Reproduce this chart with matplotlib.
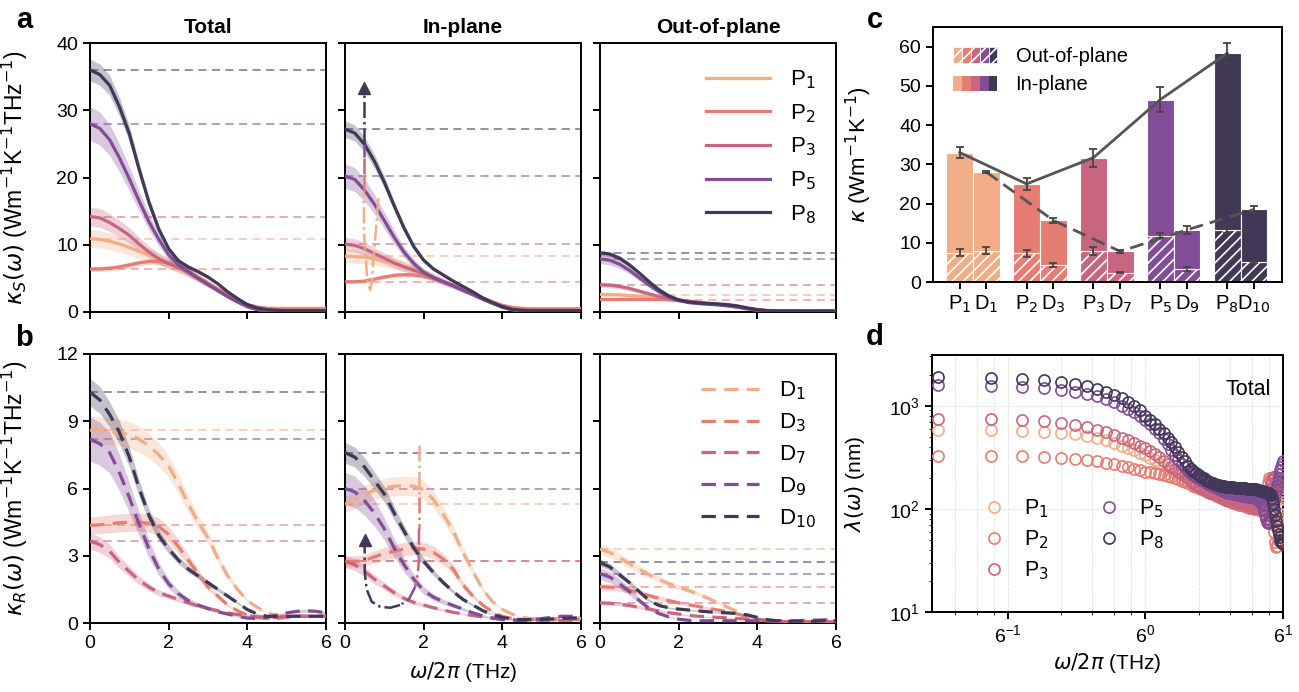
import numpy as np
import matplotlib
matplotlib.use('Agg')
import matplotlib.pyplot as plt
from matplotlib.patches import Rectangle
from matplotlib.legend_handler import HandlerTuple
from matplotlib.ticker import NullFormatter

plt.rcParams['font.family'] = ['Liberation Sans', 'DejaVu Sans']
plt.rcParams['font.size'] = 14
plt.rcParams['axes.linewidth'] = 1.4
plt.rcParams['xtick.major.width'] = 1.4
plt.rcParams['ytick.major.width'] = 1.4
plt.rcParams['xtick.major.size'] = 5
plt.rcParams['ytick.major.size'] = 5
plt.rcParams['hatch.linewidth'] = 1.2

# ---------------- data ----------------
freq = np.linspace(0, 6, 25)          # THz, 0.25 step
p_labels = ['P$_1$', 'P$_2$', 'P$_3$', 'P$_5$', 'P$_8$']
d_labels = ['D$_1$', 'D$_3$', 'D$_7$', 'D$_9$', 'D$_{10}$']
colors = ['#f0ad88', '#e57d72', '#c8657f', '#824c96', '#413757']

# kappa_S(omega), panel a
ks_total = [
    [10.9, 10.8, 10.5, 10.1, 9.6, 9.0, 8.5, 7.9, 7.3, 6.6, 5.9, 5.2, 4.3, 3.4, 2.6, 1.8, 1.1, 0.75, 0.6, 0.55, 0.55, 0.55, 0.55, 0.55, 0.55],
    [6.4, 6.4, 6.5, 6.7, 7.0, 7.3, 7.5, 7.5, 7.3, 6.8, 6.0, 5.2, 4.3, 3.4, 2.6, 1.8, 1.1, 0.7, 0.5, 0.45, 0.45, 0.45, 0.45, 0.45, 0.45],
    [14.2, 14.0, 13.3, 12.4, 11.4, 10.1, 8.9, 7.9, 7.2, 6.6, 5.9, 5.0, 4.1, 3.2, 2.3, 1.5, 0.8, 0.4, 0.25, 0.2, 0.2, 0.2, 0.2, 0.2, 0.2],
    [28.0, 27.3, 25.6, 22.9, 19.8, 16.5, 13.4, 10.8, 8.5, 7.0, 6.0, 5.0, 4.1, 3.2, 2.3, 1.5, 0.8, 0.35, 0.15, 0.1, 0.1, 0.1, 0.1, 0.1, 0.1],
    [36.0, 35.3, 33.7, 30.5, 26.5, 21.2, 16.3, 12.3, 9.4, 7.6, 6.7, 6.0, 5.2, 4.2, 3.0, 2.0, 1.1, 0.6, 0.35, 0.25, 0.2, 0.2, 0.2, 0.2, 0.2],
]
ks_inplane = [
    [8.3, 8.25, 8.15, 7.9, 7.6, 7.2, 6.8, 6.3, 5.8, 5.2, 4.6, 4.0, 3.4, 2.8, 2.1, 1.5, 1.0, 0.7, 0.55, 0.5, 0.5, 0.5, 0.5, 0.5, 0.5],
    [4.5, 4.5, 4.6, 4.9, 5.2, 5.45, 5.55, 5.5, 5.3, 5.0, 4.5, 4.0, 3.4, 2.8, 2.1, 1.5, 1.0, 0.65, 0.5, 0.45, 0.45, 0.45, 0.45, 0.45, 0.45],
    [10.1, 9.9, 9.4, 8.7, 8.0, 7.3, 6.7, 6.2, 5.7, 5.1, 4.5, 3.9, 3.3, 2.6, 1.9, 1.3, 0.8, 0.4, 0.25, 0.2, 0.2, 0.2, 0.2, 0.2, 0.2],
    [20.2, 19.7, 18.1, 16.0, 13.6, 11.1, 8.9, 7.2, 5.9, 5.1, 4.5, 3.9, 3.2, 2.6, 1.9, 1.3, 0.7, 0.3, 0.12, 0.1, 0.1, 0.1, 0.1, 0.1, 0.1],
    [27.2, 26.6, 24.9, 22.4, 19.3, 15.8, 12.5, 9.7, 7.7, 6.4, 5.5, 4.6, 3.8, 3.0, 2.1, 1.4, 0.8, 0.4, 0.25, 0.2, 0.2, 0.2, 0.2, 0.2, 0.2],
]
ks_outplane = [
    [2.6, 2.6, 2.55, 2.45, 2.35, 2.2, 2.05, 1.9, 1.75, 1.6, 1.45, 1.3, 1.15, 1.0, 0.8, 0.55, 0.35, 0.25, 0.2, 0.2, 0.2, 0.2, 0.2, 0.2, 0.2],
    [1.85, 1.85, 1.85, 1.85, 1.85, 1.85, 1.85, 1.8, 1.7, 1.55, 1.4, 1.25, 1.1, 0.95, 0.75, 0.5, 0.3, 0.2, 0.15, 0.15, 0.15, 0.15, 0.15, 0.15, 0.15],
    [4.05, 4.0, 3.8, 3.5, 3.1, 2.7, 2.3, 2.0, 1.8, 1.6, 1.45, 1.3, 1.15, 1.0, 0.8, 0.55, 0.35, 0.2, 0.15, 0.15, 0.15, 0.15, 0.15, 0.15, 0.15],
    [7.9, 7.7, 7.1, 6.2, 5.1, 4.0, 3.0, 2.2, 1.7, 1.4, 1.25, 1.15, 1.05, 0.9, 0.7, 0.45, 0.25, 0.15, 0.1, 0.1, 0.1, 0.1, 0.1, 0.1, 0.1],
    [8.8, 8.6, 8.0, 7.0, 5.8, 4.5, 3.3, 2.4, 1.8, 1.5, 1.35, 1.25, 1.2, 1.1, 0.9, 0.6, 0.35, 0.2, 0.15, 0.15, 0.15, 0.15, 0.15, 0.15, 0.15],
]
ks_band = [0.12, 0.06, 0.10, 0.09, 0.045]

# kappa_R(omega), panel b
kr_total = [
    [8.6, 8.6, 8.55, 8.5, 8.4, 8.2, 7.9, 7.5, 7.0, 6.2, 5.3, 4.5, 3.8, 2.9, 2.1, 1.5, 1.0, 0.7, 0.45, 0.35, 0.3, 0.3, 0.3, 0.3, 0.3],
    [4.35, 4.38, 4.42, 4.47, 4.5, 4.5, 4.45, 4.3, 3.95, 3.4, 2.8, 2.2, 1.6, 1.2, 0.8, 0.55, 0.35, 0.25, 0.2, 0.2, 0.25, 0.3, 0.3, 0.3, 0.3],
    [3.65, 3.5, 3.2, 2.7, 2.3, 1.9, 1.6, 1.35, 1.2, 1.05, 0.9, 0.75, 0.65, 0.55, 0.45, 0.38, 0.32, 0.28, 0.25, 0.25, 0.3, 0.3, 0.3, 0.3, 0.3],
    [8.2, 8.0, 7.6, 6.7, 5.6, 4.4, 3.3, 2.4, 1.75, 1.3, 1.0, 0.8, 0.65, 0.5, 0.4, 0.3, 0.22, 0.2, 0.25, 0.35, 0.45, 0.52, 0.55, 0.52, 0.45],
    [10.3, 9.95, 9.3, 8.5, 7.4, 6.0, 4.8, 3.9, 3.3, 2.8, 2.4, 2.1, 1.8, 1.5, 1.2, 0.9, 0.6, 0.4, 0.3, 0.3, 0.3, 0.3, 0.3, 0.3, 0.3],
]
kr_inplane = [
    [5.3, 5.5, 5.75, 5.92, 6.03, 6.1, 6.12, 6.1, 5.95, 5.5, 4.85, 4.1, 3.15, 2.3, 1.5, 0.95, 0.6, 0.4, 0.25, 0.2, 0.18, 0.18, 0.2, 0.2, 0.2],
    [2.75, 2.75, 2.8, 2.95, 3.1, 3.2, 3.3, 3.35, 3.3, 3.15, 2.85, 2.4, 1.7, 1.2, 0.8, 0.5, 0.3, 0.2, 0.15, 0.15, 0.15, 0.15, 0.15, 0.15, 0.15],
    [2.75, 2.6, 2.3, 1.95, 1.65, 1.35, 1.1, 0.92, 0.8, 0.68, 0.58, 0.48, 0.4, 0.33, 0.27, 0.22, 0.18, 0.15, 0.12, 0.12, 0.12, 0.12, 0.12, 0.12, 0.12],
    [6.0, 5.85, 5.45, 4.9, 4.2, 3.35, 2.6, 1.95, 1.45, 1.15, 0.95, 0.78, 0.62, 0.45, 0.32, 0.22, 0.15, 0.12, 0.12, 0.15, 0.2, 0.25, 0.3, 0.3, 0.3],
    [7.6, 7.4, 6.95, 6.35, 5.75, 4.9, 4.1, 3.35, 2.75, 2.25, 1.8, 1.4, 1.05, 0.8, 0.55, 0.38, 0.25, 0.18, 0.15, 0.15, 0.15, 0.18, 0.2, 0.22, 0.22],
]
kr_outplane = [
    [3.3, 3.15, 2.9, 2.65, 2.4, 2.15, 1.95, 1.75, 1.6, 1.45, 1.3, 1.1, 0.9, 0.7, 0.5, 0.32, 0.2, 0.12, 0.08, 0.05, 0.05, 0.05, 0.05, 0.05, 0.05],
    [1.62, 1.6, 1.55, 1.47, 1.35, 1.22, 1.1, 1.0, 0.9, 0.82, 0.74, 0.66, 0.58, 0.5, 0.4, 0.28, 0.18, 0.12, 0.08, 0.05, 0.05, 0.05, 0.05, 0.05, 0.05],
    [0.9, 0.88, 0.84, 0.78, 0.7, 0.62, 0.54, 0.46, 0.4, 0.34, 0.3, 0.27, 0.25, 0.23, 0.2, 0.17, 0.14, 0.1, 0.07, 0.05, 0.05, 0.05, 0.05, 0.05, 0.05],
    [2.2, 2.05, 1.75, 1.4, 1.0, 0.65, 0.42, 0.27, 0.17, 0.12, 0.1, 0.1, 0.1, 0.1, 0.1, 0.1, 0.1, 0.1, 0.1, 0.1, 0.1, 0.12, 0.13, 0.14, 0.15],
    [2.7, 2.5, 2.15, 1.8, 1.4, 1.0, 0.78, 0.68, 0.62, 0.58, 0.54, 0.5, 0.47, 0.45, 0.42, 0.36, 0.25, 0.15, 0.1, 0.08, 0.08, 0.08, 0.08, 0.1, 0.1],
]
kr_band = [0.07, 0.09, 0.10, 0.12, 0.06]

# panel c: thermal conductivity per structure
bar_labels = ['P$_1$', 'D$_1$', 'P$_2$', 'D$_3$', 'P$_3$', 'D$_7$', 'P$_5$', 'D$_9$', 'P$_8$', 'D$_{10}$']
kappa_P = [33.0, 25.0, 31.7, 46.5, 58.3]
kappa_P_err = [1.5, 1.6, 2.3, 3.2, 2.5]
kappa_P_out = [7.5, 7.3, 8.0, 11.8, 13.2]
kappa_P_out_err = [0.8, 0.8, 1.0, 0.7, 0.8]
kappa_D = [28.0, 15.7, 7.8, 13.3, 18.5]
kappa_D_err = [0.3, 0.6, 0.3, 1.0, 1.0]
kappa_D_out = [8.0, 4.3, 2.4, 3.4, 5.1]
kappa_D_out_err = [0.8, 0.6, 0.2, 0.5, 0.3]

# panel d: phonon mean free path, total
freq_d = np.arange(1, 91) / 15.0
lam_p1 = [580, 575, 568, 558, 545, 528, 508, 485, 460, 435, 410, 388, 368, 348, 330,
          312, 295, 278, 262, 248, 235, 222, 211, 201, 192, 184, 177, 171, 166, 161,
          157, 153, 149, 146, 143, 140, 137, 134, 131, 129, 126, 124, 122, 120, 118,
          117, 115, 114, 113, 112, 111, 110, 109, 108, 107, 106, 105, 104, 103, 103,
          102, 102, 101, 101, 100, 100, 99, 99, 98, 97, 96, 94, 92, 90, 88,
          84, 80, 76, 72, 70, 70, 72, 76, 82, 90, 100, 112, 125, 138, 150]
lam_p2 = [325, 325, 322, 318, 312, 305, 297, 288, 279, 270, 261, 252, 244, 237, 230,
          226, 222, 218, 213, 208, 203, 198, 193, 188, 183, 178, 173, 168, 163, 158,
          154, 151, 148, 145, 142, 139, 136, 133, 130, 128, 126, 124, 122, 120, 118,
          117, 115, 114, 112, 111, 110, 109, 108, 107, 106, 105, 104, 103, 102, 102,
          101, 100, 100, 99, 99, 98, 98, 97, 97, 98, 104, 120, 150, 180, 198,
          190, 160, 120, 85, 60, 48, 43, 44, 50, 62, 80, 105, 135, 165, 190]
lam_p3 = [750, 740, 725, 710, 685, 650, 620, 580, 550, 520, 490, 460, 435, 410, 390,
          365, 340, 315, 292, 272, 255, 242, 230, 219, 208, 198, 188, 180, 172, 165,
          160, 155, 151, 147, 144, 141, 138, 135, 132, 130, 127, 125, 123, 121, 119,
          118, 117, 116, 115, 114, 113, 112, 111, 110, 109, 108, 107, 106, 105, 104,
          104, 103, 103, 102, 102, 101, 101, 100, 100, 100, 101, 103, 108, 118, 135,
          155, 175, 192, 203, 205, 198, 185, 172, 162, 158, 160, 166, 175, 185, 195]
lam_p5 = [1590, 1560, 1530, 1480, 1430, 1370, 1300, 1230, 1160, 1080, 1000, 930, 860, 790, 720,
          660, 600, 540, 480, 425, 375, 335, 300, 275, 252, 235, 222, 212, 205, 198,
          192, 186, 180, 175, 170, 166, 162, 159, 156, 153, 150, 148, 146, 144, 142,
          141, 140, 139, 138, 137, 136, 135, 134, 133, 133, 132, 131, 131, 130, 130,
          129, 128, 127, 126, 124, 122, 119, 115, 108, 98, 88, 80, 75, 73, 74,
          78, 85, 95, 108, 122, 137, 152, 167, 183, 200, 218, 236, 255, 272, 290]
lam_p8 = [1900, 1860, 1820, 1760, 1700, 1620, 1540, 1450, 1360, 1270, 1180, 1090, 1000, 900, 800,
          730, 660, 600, 545, 490, 440, 395, 355, 320, 290, 262, 245, 232, 222, 213,
          205, 198, 192, 186, 181, 177, 174, 171, 169, 167, 166, 165, 164, 163, 163,
          162, 162, 161, 161, 160, 160, 159, 159, 158, 158, 157, 157, 156, 156, 155,
          155, 154, 154, 153, 152, 151, 150, 149, 148, 147, 146, 145, 144, 143, 142,
          140, 136, 128, 115, 100, 88, 77, 68, 62, 57, 53, 50, 48, 47, 46]
lam_all = [lam_p1, lam_p2, lam_p3, lam_p5, lam_p8]

# ---------------- figure ----------------
W, H = 1299, 692
fig = plt.figure(figsize=(W / 100, H / 100), dpi=100)


def px_axes(left, top, right, bottom):
    return fig.add_axes([left / W, 1 - bottom / H, (right - left) / W, (bottom - top) / H])


col_left = [90, 345, 600]
axa = [px_axes(l, 43, l + 236, 312) for l in col_left]
axb = [px_axes(l, 354, l + 236, 623) for l in col_left]
axc = px_axes(933, 27, 1282, 282)
axd = px_axes(932, 355, 1283, 612)


def draw_curves(ax, curves, bands, labels, dashed):
    for y, c, b, lab in zip(curves, colors, bands, labels):
        y = np.array(y)
        ax.fill_between(freq, y * (1 - b), y * (1 + b), color=c, alpha=0.3, lw=0, zorder=1)
        ax.axhline(y[0], color=c, lw=1.3, alpha=0.6, dashes=(4.5, 3), zorder=0)
        if dashed:
            ax.plot(freq, y, color=c, lw=2.3, dashes=(4.5, 2.6), label=lab, zorder=3)
        else:
            ax.plot(freq, y, color=c, lw=2.3, label=lab, zorder=3)


for ax, data in zip(axa, [ks_total, ks_inplane, ks_outplane]):
    draw_curves(ax, data, ks_band, p_labels, False)
    ax.set_xlim(0, 6)
    ax.set_ylim(0, 40)
    ax.set_xticks([0, 2, 4, 6])
    ax.set_yticks([0, 10, 20, 30, 40])
    ax.tick_params(labelbottom=False)
for ax, data in zip(axb, [kr_total, kr_inplane, kr_outplane]):
    draw_curves(ax, data, kr_band, d_labels, True)
    ax.set_xlim(0, 6)
    ax.set_ylim(0, 12)
    ax.set_xticks([0, 2, 4, 6])
    ax.set_yticks([0, 3, 6, 9, 12])
for ax in axa[1:] + axb[1:]:
    ax.tick_params(labelleft=False)

for ax, t in zip(axa, ['Total', 'In-plane', 'Out-of-plane']):
    ax.set_title(t, fontsize=15, fontweight='bold', pad=7)

axa[0].set_ylabel(r'$\kappa_S(\omega)$ (Wm$^{-1}$K$^{-1}$THz$^{-1}$)', fontsize=16.5)
axa[0].yaxis.set_label_coords(-0.255, 0.5)
axb[0].set_ylabel(r'$\kappa_R(\omega)$ (Wm$^{-1}$K$^{-1}$THz$^{-1}$)', fontsize=16.5)
axb[0].yaxis.set_label_coords(-0.255, 0.5)
axb[1].set_xlabel(r'$\omega/2\pi$ (THz)', fontsize=15, labelpad=6)

axa[2].legend(loc='upper right', bbox_to_anchor=(1.0, 0.98), frameon=False, fontsize=16,
              handlelength=2.9, labelspacing=0.5, handletextpad=0.9)
axb[2].legend(loc='upper right', bbox_to_anchor=(1.0, 0.98), frameon=False, fontsize=16,
              handlelength=2.6, labelspacing=0.42, handletextpad=0.9)


# gradient dash-dot guide arrows (annotation only)
def guide(ax, chunks, head):
    for (xs, ys), c in chunks:
        ax.plot(xs, ys, color=c, lw=1.8, ls='-.', zorder=4)
    ax.plot([head[0]], [head[1]], marker='^', ms=9, color=colors[4], zorder=5, lw=0)


guide(axa[1], [
    (([0.85, 0.68, 0.64, 0.57, 0.48, 0.48], [16.9, 4.5, 3.3, 4.5, 12.0, 18.0]), colors[0]),
    (([0.48, 0.48], [18.0, 20.5]), colors[1]),
    (([0.48, 0.48], [20.5, 23.0]), colors[2]),
    (([0.48, 0.48], [23.0, 25.0]), colors[3]),
    (([0.48, 0.48], [25.0, 32.5]), colors[4]),
], (0.48, 33.3))

guide(axb[1], [
    (([1.88, 1.88], [7.95, 5.6]), colors[0]),
    (([1.88, 1.88], [5.6, 4.2]), colors[1]),
    (([1.88, 1.88, 1.85, 1.78], [4.2, 2.8, 2.2, 1.6]), colors[2]),
    (([1.78, 1.62, 1.4], [1.6, 1.05, 0.8]), colors[3]),
    (([1.4, 1.15, 0.9, 0.68, 0.55, 0.5, 0.5], [0.8, 0.68, 0.72, 0.95, 1.5, 2.3, 3.4]), colors[4]),
], (0.5, 3.7))

# ---------------- panel c ----------------
grp = np.arange(5)
xp = grp - 0.2
xd = grp + 0.2
for x, tot, out in [(xp, kappa_P, kappa_P_out), (xd, kappa_D, kappa_D_out)]:
    tot = np.array(tot)
    out = np.array(out)
    axc.bar(x, out, width=0.4, color=colors, edgecolor='white', lw=0.8, hatch='///', zorder=2)
    axc.bar(x, tot - out, bottom=out, width=0.4, color=colors, edgecolor='white', lw=0.8, zorder=2)
ekw = dict(fmt='none', ecolor='#444444', elinewidth=1.3, capsize=3, capthick=1.3, zorder=4)
axc.errorbar(xp, kappa_P, yerr=kappa_P_err, **ekw)
axc.errorbar(xd, kappa_D, yerr=kappa_D_err, **ekw)
axc.errorbar(xp, kappa_P_out, yerr=kappa_P_out_err, **ekw)
axc.errorbar(xd, kappa_D_out, yerr=kappa_D_out_err, **ekw)
axc.plot(xp, kappa_P, color='#555555', lw=2, zorder=3)
axc.plot(xd, kappa_D, color='#555555', lw=2, dashes=(5, 2.5), zorder=3)
axc.set_xlim(-0.6, 4.62)
axc.set_ylim(0, 65)
axc.set_yticks([0, 10, 20, 30, 40, 50, 60])
axc.set_xticks(np.ravel(np.column_stack([xp, xd])), bar_labels, fontsize=14.5)
axc.set_ylabel(r'$\kappa$ (Wm$^{-1}$K$^{-1}$)', fontsize=16)
axc.yaxis.set_label_coords(-0.17, 0.5)

h_out = tuple(Rectangle((0, 0), 1, 1, facecolor=c, edgecolor='white', lw=0.5, hatch='///') for c in colors)
h_in = tuple(Rectangle((0, 0), 1, 1, facecolor=c, edgecolor='none') for c in colors)
axc.legend([h_out, h_in], ['Out-of-plane', 'In-plane'], handler_map={tuple: HandlerTuple(ndivide=None, pad=0)},
           loc='upper left', frameon=False, fontsize=14.5, handlelength=2.2, handleheight=0.8,
           handletextpad=0.9, labelspacing=0.45, borderaxespad=0.6)

# ---------------- panel d ----------------
for lam, c, lab in zip(lam_all, colors, p_labels):
    axd.plot(freq_d, lam, 'o', mfc='none', mec=c, ms=8, mew=1.2, label=lab, zorder=3)
axd.set_xscale('log', base=6, subs=[2, 3, 4, 5])
axd.set_yscale('log')
axd.set_xlim(0.062, 6)
axd.set_ylim(10, 3100)
axd.xaxis.set_minor_formatter(NullFormatter())
axd.grid(axis='x', which='both', ls='--', lw=0.6, color='#e0e0e0', zorder=0)
axd.grid(axis='y', which='major', ls='--', lw=0.6, color='#e0e0e0', zorder=0)
axd.set_xlabel(r'$\omega/2\pi$ (THz)', fontsize=15, labelpad=4)
axd.set_ylabel(r'$\lambda(\omega)$ (nm)', fontsize=15)
axd.yaxis.set_label_coords(-0.185, 0.5)
axd.text(0.965, 0.865, 'Total', transform=axd.transAxes, ha='right', va='center', fontsize=15.5)
axd.legend(loc='lower left', bbox_to_anchor=(0.06, 0.04), ncol=2, frameon=False, fontsize=15.5,
           handletextpad=0.4, columnspacing=1.8, labelspacing=0.4, numpoints=1)

# panel letters
for lab, x, y in [('a', 24, 20), ('b', 24, 338), ('c', 875, 20), ('d', 875, 337)]:
    fig.text(x / W, 1 - y / H, lab, fontsize=21, fontweight='bold', ha='center', va='center')

fig.savefig('out.png', dpi=100)
